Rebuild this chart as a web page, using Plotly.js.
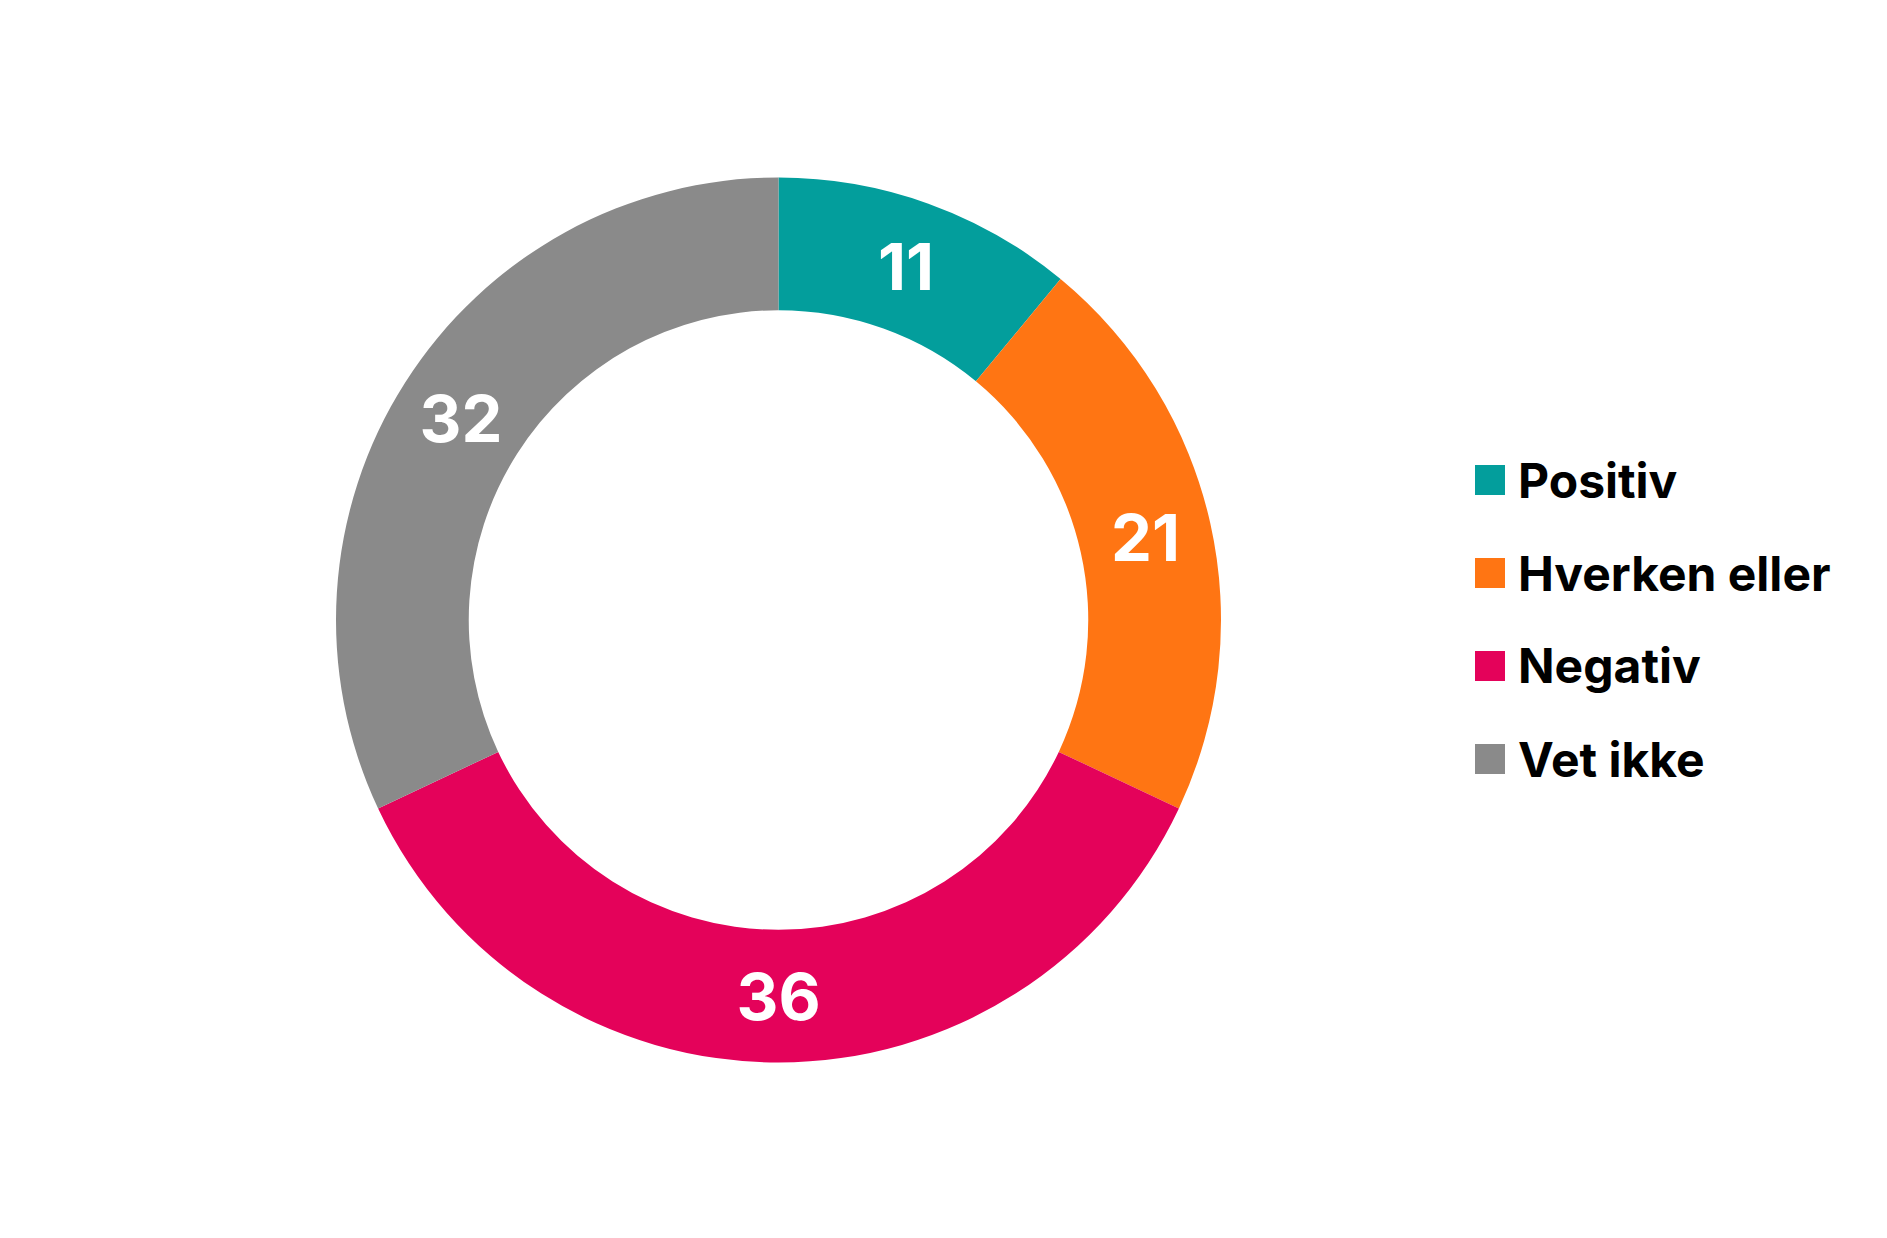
<!DOCTYPE html>
<html>
<head>
<meta charset="utf-8">
<script src="https://cdn.plot.ly/plotly-3.0.1.min.js"></script>
<style>html,body{margin:0;padding:0;background:#fff;}#chart{width:1887px;height:1238px;}</style>
</head>
<body>
<div id="chart"></div>
<script>
const labels = ["Positiv", "Hverken eller", "Negativ", "Vet ikke"];
const values = [11, 21, 36, 32];
const colors = ["#039E9C", "#FF7513", "#E4025A", "#8A8A8A"];

const W = 1887, H = 1238;
const FONT = "Inter, Roboto, 'DejaVu Sans', sans-serif";

const trace = {
  type: "pie",
  labels: labels,
  values: values,
  sort: false,
  direction: "clockwise",
  rotation: 0,
  hole: 0.70,
  marker: {colors: colors, line: {width: 0}},
  texttemplate: "%{value}",
  textposition: "inside",
  insidetextorientation: "horizontal",
  textfont: {family: FONT, size: 65, color: "#ffffff", weight: 700},
  showlegend: false,
  domain: {x: [336 / W, 1221 / W], y: [(H - 1063) / H, (H - 177) / H]},
  hoverinfo: "label+value"
};

// Custom legend (squares + labels)
const legX0 = 1475, legSize = 30, legTextX = 1516, legY0 = 480, legStep = 93;
const shapes = labels.map((l, i) => ({
  type: "rect", xref: "paper", yref: "paper",
  x0: legX0 / W, x1: (legX0 + legSize) / W,
  y0: (H - (legY0 + legStep * i - legSize / 2)) / H,
  y1: (H - (legY0 + legStep * i + legSize / 2)) / H,
  fillcolor: colors[i], line: {width: 0}
}));
const annotations = labels.map((l, i) => ({
  text: l, xref: "paper", yref: "paper",
  x: legTextX / W, y: (H - (legY0 + legStep * i)) / H,
  xanchor: "left", yanchor: "middle", showarrow: false,
  font: {family: FONT, size: 48, color: "#000000", weight: 700}
}));

const layout = {
  width: W, height: H,
  margin: {l: 0, r: 0, t: 0, b: 0},
  paper_bgcolor: "#ffffff",
  plot_bgcolor: "#ffffff",
  showlegend: false,
  shapes: shapes,
  annotations: annotations
};

Plotly.newPlot("chart", [trace], layout, {displayModeBar: false, staticPlot: true});
</script>
</body>
</html>
